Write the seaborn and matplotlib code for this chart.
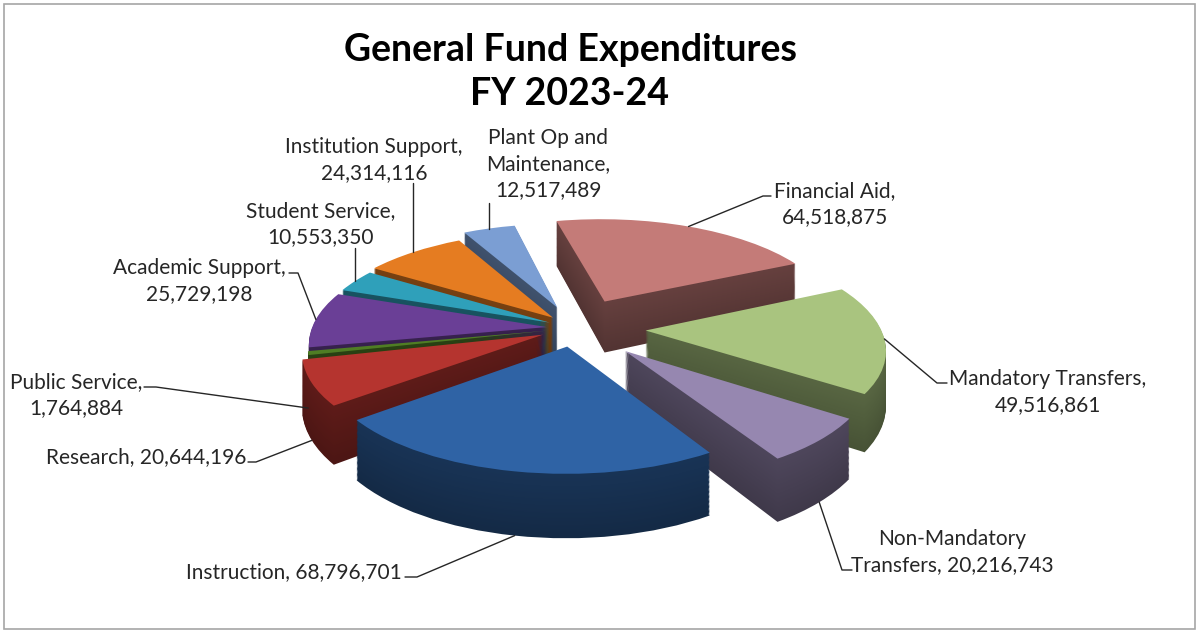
import matplotlib

matplotlib.use("Agg")
import matplotlib.pyplot as plt
import matplotlib.transforms as mtransforms
import numpy as np
import seaborn as sns
from matplotlib.colors import to_rgb
from matplotlib.patches import Rectangle

categories = [
    "Financial Aid",
    "Mandatory Transfers",
    "Non-Mandatory Transfers",
    "Instruction",
    "Research",
    "Public Service",
    "Academic Support",
    "Student Service",
    "Institution Support",
    "Plant Op and Maintenance",
]
amounts = [
    64518875,
    49516861,
    20216743,
    68796701,
    20644196,
    1764884,
    25729198,
    10553350,
    24314116,
    12517489,
]
label_texts = [
    "Financial Aid,\n64,518,875",
    "Mandatory Transfers,\n49,516,861",
    "Non-Mandatory\nTransfers, 20,216,743",
    "Instruction, 68,796,701",
    "Research, 20,644,196",
    "Public Service,\n1,764,884",
    "Academic Support,\n25,729,198",
    "Student Service,\n10,553,350",
    "Institution Support,\n24,314,116",
    "Plant Op and\nMaintenance,\n12,517,489",
]
explode = [0.30, 0.30, 0.30, 0.18, 0.15, 0.12, 0.12, 0.12, 0.14, 0.22]
top_colors = [
    "#C47B78",
    "#A9C47F",
    "#9687B0",
    "#2F63A5",
    "#B5342F",
    "#4F7D24",
    "#6A3F96",
    "#2FA0BA",
    "#E57C21",
    "#7B9ED3",
]

# layout in pixels
W, H = 1200, 634
CX, CY = 575, 328
RX, RY = 235, 102
TILT = 0.15
DEPTH = 0.52
START = 103

# label centre, alignment, leader elbow points (or label bottom for vertical leaders)
label_pos = [
    (835, 204, "center"),
    (1048, 392, "center"),
    (952, 552, "center"),
    (402, 572, "right"),
    (146, 457, "center"),
    (76, 395, "center"),
    (199, 281, "center"),
    (321, 224, "center"),
    (374, 160, "center"),
    (548, 164, "center"),
]
elbows = [
    [(771, 196), (763, 196)],
    [(947, 383), (937, 383)],
    [(852, 570), (842, 570)],
    [(405, 577), (417, 577)],
    [(248, 462), (256, 462)],
    [(144, 387), (156, 387)],
    [(289, 273), (298, 273)],
    248,
    183,
    203,
]


class Perspective(mtransforms.Transform):
    input_dims = 2
    output_dims = 2
    is_separable = False

    def __init__(self, lift=0.0):
        super().__init__()
        self.lift = lift

    def transform_non_affine(self, xy):
        xy = np.asarray(xy, dtype=float)
        k = 1.0 / (1.0 + TILT * xy[:, 1])
        return np.column_stack([xy[:, 0] * k, (xy[:, 1] - self.lift) * k])


def project(x, y, lift=0.0):
    return Perspective(lift).transform_non_affine(np.array([[x, y]]))[0]


def px(x, y):
    return (x - CX) / RX, (CY - y) / RY


sns.set_theme(style="white")
plt.rcParams["font.family"] = ["Lato", "DejaVu Sans"]

fig = plt.figure(figsize=(12, 6.34), dpi=100)
ax = fig.add_axes([0, 0, 1, 1])

fracs = np.array(amounts) / sum(amounts)
bounds = START - 360 * np.concatenate([[0], np.cumsum(fracs)])
mids = np.radians((bounds[:-1] + bounds[1:]) / 2)
depth_key = (np.array(explode) + 0.6) * np.sin(mids)
rank = np.argsort(np.argsort(-depth_key))

n_layers = 50
for k in range(n_layers, -1, -1):
    lift = DEPTH * k / n_layers
    shade = 1.0 if k == 0 else 0.52 - 0.1 * k / n_layers
    cols = [tuple(c * shade for c in to_rgb(tc)) for tc in top_colors]
    wedges, _ = ax.pie(
        amounts,
        explode=explode,
        colors=cols,
        startangle=START,
        counterclock=False,
        wedgeprops=dict(linewidth=0),
    )
    for i, w in enumerate(wedges):
        w.set_transform(Perspective(lift) + ax.transData)
        z = 0.9 if k == 0 else 0.5 - 0.4 * k / n_layers
        w.set_zorder(1 + rank[i] + z)

# labels and leader lines
for i, text in enumerate(label_texts):
    x, y, ha = label_pos[i]
    ax.text(
        *px(x, y),
        text,
        ha=ha,
        va="center",
        fontsize=15,
        color="#262626",
        linespacing=1.4,
        zorder=60,
    )
    r = explode[i] + 1.0
    lift = DEPTH if np.sin(mids[i]) < -0.15 else 0.0
    end = project(r * np.cos(mids[i]), r * np.sin(mids[i]), lift)
    if isinstance(elbows[i], list):
        pts = [px(*p) for p in elbows[i]]
    else:
        pts = [(end[0], px(0, elbows[i])[1])]
    pts.append(tuple(end))
    xs, ys = zip(*pts)
    ax.plot(xs, ys, color="#262626", lw=1.0, zorder=55)

ax.text(
    *px(570, 72),
    "General Fund Expenditures\nFY 2023-24",
    ha="center",
    va="center",
    fontsize=27,
    fontweight="bold",
    color="black",
    linespacing=1.38,
    zorder=60,
)

ax.set_xlim(px(0, 0)[0], px(W, 0)[0])
ax.set_ylim(px(0, H)[1], px(0, 0)[1])
ax.set_aspect("auto")
ax.axis("off")

fig.add_artist(
    Rectangle(
        (4 / W, 1 - 629 / H),
        1191 / W,
        625 / H,
        transform=fig.transFigure,
        fill=False,
        edgecolor="#A6A6A6",
        lw=1.2,
    )
)

fig.savefig("out.png", dpi=100)
